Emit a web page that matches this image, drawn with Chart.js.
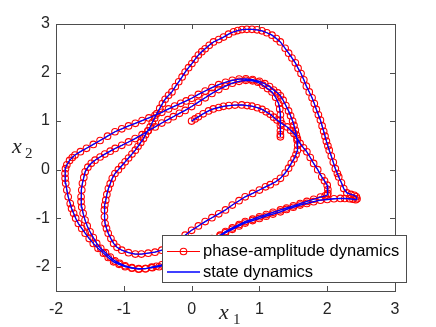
<!DOCTYPE html>
<html lang="en">
<head>
<meta charset="UTF-8">
<title>Phase-amplitude vs state dynamics</title>
<script src="https://cdn.jsdelivr.net/npm/chart.js"></script>
<style>
  html, body { margin: 0; padding: 0; background: #ffffff; }
  #wrap { width: 436px; height: 327px; }
</style>
</head>
<body>
<div id="wrap"><canvas id="phaseChart" width="436" height="327"></canvas></div>
<script>
// trajectory (x1, x2), one array pair per pass round the orbit
const pass1X = [0.00,0.05,0.10,0.17,0.25,0.32,0.40,0.47,0.55,0.64,0.74,0.82,0.89,0.97,1.04,1.10,1.16,1.21,1.26,1.33,1.41,1.46,1.51,1.56,1.60,1.65,1.70,1.75,1.80,1.86,1.92,1.96,2.00,2.01,2.01,2.00,1.97];
const pass1Y = [1.00,1.045,1.087,1.15,1.21,1.25,1.28,1.305,1.32,1.33,1.333,1.32,1.307,1.275,1.24,1.19,1.14,1.08,1.02,0.95,0.88,0.81,0.745,0.64,0.54,0.45,0.366,0.25,0.127,0.0,-0.148,-0.23,-0.32,-0.41,-0.49,-0.52,-0.54];

const pass2X = [1.90,1.80,1.70,1.60,1.50,1.40,1.31,1.20,1.10,1.00,0.90,0.79,0.70,0.60,0.50,0.42,0.30,0.20,0.10,0.00,-0.10,-0.20,-0.30,-0.44,-0.52,-0.59,-0.68,-0.78,-0.88,-0.98,-1.07,-1.15,-1.23,-1.30,-1.38,-1.45,-1.51,-1.57,-1.62,-1.67,-1.71,-1.74,-1.77,-1.79,-1.82,-1.84,-1.857,-1.865,-1.867,-1.86,-1.84,-1.80,-1.76];
const pass2Y = [-0.565,-0.61,-0.655,-0.70,-0.745,-0.79,-0.83,-0.88,-0.925,-0.97,-1.02,-1.07,-1.13,-1.20,-1.275,-1.35,-1.42,-1.50,-1.60,-1.68,-1.75,-1.82,-1.88,-1.96,-1.99,-2.01,-2.04,-2.05,-2.03,-2.00,-1.95,-1.90,-1.81,-1.72,-1.62,-1.52,-1.42,-1.31,-1.21,-1.11,-1.00,-0.90,-0.80,-0.70,-0.56,-0.42,-0.28,-0.18,-0.08,0.02,0.10,0.19,0.25];

const pass3X = [-1.72,-1.64,-1.55,-1.45,-1.35,-1.24,-1.13,-1.03,-0.93,-0.83,-0.73,-0.63,-0.54,-0.44,-0.34,-0.25,-0.16,-0.08,0.0,0.10,0.20,0.30,0.40,0.50,0.60,0.70,0.80,0.90,1.00,1.08,1.15,1.21,1.27,1.31,1.35,1.39,1.43,1.46,1.49,1.51,1.53,1.545,1.555,1.565,1.56,1.54,1.51,1.47,1.43,1.38,1.31,1.24,1.16,1.09,1.00,0.90,0.79,0.70,0.60,0.50,0.40,0.30,0.20,0.10,0.00,-0.095,-0.18,-0.27,-0.36,-0.44,-0.54,-0.64,-0.74,-0.83,-0.93,-1.03,-1.10,-1.15,-1.19,-1.23,-1.255,-1.276,-1.285,-1.287,-1.28,-1.266,-1.25,-1.227,-1.20,-1.17,-1.13,-1.08,-1.03,-0.98,-0.93,-0.88,-0.83,-0.79,-0.75,-0.71,-0.68,-0.645,-0.61,-0.58,-0.545,-0.513,-0.47,-0.43];
const pass3Y = [0.30,0.37,0.44,0.52,0.60,0.69,0.78,0.84,0.90,0.955,1.01,1.065,1.12,1.18,1.25,1.31,1.365,1.415,1.47,1.55,1.62,1.69,1.75,1.80,1.84,1.865,1.87,1.855,1.82,1.77,1.71,1.64,1.58,1.52,1.43,1.32,1.21,1.11,1.00,0.91,0.81,0.71,0.61,0.50,0.40,0.31,0.22,0.13,0.03,-0.07,-0.18,-0.25,-0.31,-0.355,-0.42,-0.49,-0.56,-0.64,-0.73,-0.83,-0.91,-0.99,-1.07,-1.16,-1.25,-1.35,-1.44,-1.53,-1.60,-1.66,-1.70,-1.72,-1.74,-1.74,-1.71,-1.66,-1.60,-1.52,-1.42,-1.31,-1.21,-1.11,-0.97,-0.83,-0.73,-0.63,-0.51,-0.39,-0.29,-0.18,-0.08,0.0,0.08,0.16,0.24,0.32,0.40,0.48,0.56,0.64,0.72,0.80,0.88,0.97,1.06,1.156,1.26,1.36];

const pass4X = [-0.39,-0.34,-0.29,-0.24,-0.19,-0.14,-0.095,-0.045,0.004,0.05,0.10,0.15,0.20,0.26,0.323,0.40,0.471,0.545,0.619,0.68,0.743,0.815,0.89,0.965,1.038,1.11,1.186,1.25,1.309,1.38,1.431,1.48,1.53,1.57,1.614,1.655,1.693,1.735,1.777,1.81,1.84,1.87,1.90,1.925,1.948,1.968,1.988,2.01,2.03,2.06,2.09,2.12,2.15,2.17,2.21,2.244,2.29,2.35,2.40,2.43,2.44,2.42];
const pass4Y = [1.45,1.53,1.60,1.71,1.81,1.91,2.01,2.10,2.185,2.27,2.36,2.43,2.49,2.56,2.63,2.68,2.73,2.79,2.84,2.865,2.885,2.89,2.89,2.88,2.86,2.82,2.77,2.70,2.63,2.50,2.40,2.30,2.20,2.09,1.98,1.85,1.72,1.60,1.48,1.36,1.24,1.13,1.02,0.90,0.79,0.69,0.586,0.49,0.40,0.28,0.15,0.02,-0.08,-0.15,-0.27,-0.39,-0.48,-0.51,-0.53,-0.56,-0.60,-0.62];

const pass5X = [2.38,2.33,2.26,2.195,2.10,2.00,1.90,1.80,1.70,1.60,1.50,1.40,1.31,1.20,1.10,1.00,0.90,0.79,0.70,0.60,0.50,0.42,0.32,0.22,0.12,0.02,-0.08,-0.18,-0.28,-0.38,-0.48,-0.58,-0.68,-0.78,-0.88,-0.98,-1.06,-1.13,-1.20,-1.27,-1.34,-1.40,-1.45,-1.498,-1.54,-1.572,-1.60,-1.62,-1.63,-1.63,-1.62,-1.61,-1.59,-1.57,-1.53,-1.48,-1.424,-1.35,-1.28,-1.20,-1.128,-1.03,-0.93,-0.833,-0.73,-0.64,-0.538,-0.44,-0.35,-0.27,-0.18,-0.095,0.0,0.10,0.20,0.30,0.40,0.50,0.60,0.70,0.80,0.90,0.98,1.05,1.12,1.186,1.24,1.284,1.30,1.31,1.31,1.31,1.31,1.31,1.31];
const pass5Y = [-0.61,-0.60,-0.595,-0.593,-0.60,-0.615,-0.63,-0.66,-0.695,-0.73,-0.775,-0.82,-0.87,-0.915,-0.96,-1.005,-1.05,-1.10,-1.16,-1.23,-1.30,-1.37,-1.45,-1.53,-1.62,-1.70,-1.78,-1.85,-1.91,-1.96,-2.00,-2.02,-2.04,-2.04,-2.02,-1.98,-1.93,-1.88,-1.80,-1.71,-1.62,-1.52,-1.40,-1.28,-1.16,-1.04,-0.90,-0.77,-0.66,-0.56,-0.42,-0.28,-0.16,-0.045,0.05,0.13,0.195,0.26,0.32,0.38,0.436,0.50,0.57,0.64,0.72,0.80,0.88,0.96,1.03,1.09,1.16,1.22,1.30,1.39,1.48,1.57,1.65,1.72,1.78,1.82,1.84,1.83,1.80,1.74,1.67,1.60,1.49,1.36,1.25,1.13,1.02,0.91,0.80,0.72,0.675];

const xTicks = [-2, -1, 0, 1, 2, 3];
const yTicks = [-2, -1, 0, 1, 2, 3];
const seriesNames = ['phase-amplitude dynamics', 'state dynamics'];

const x1 = [].concat(pass1X, pass2X, pass3X, pass4X, pass5X);
const x2 = [].concat(pass1Y, pass2Y, pass3Y, pass4Y, pass5Y);
const orbit = x1.map((v, i) => ({ x: v, y: x2[i] }));

const axisColor = '#262626';
const tickLen = 5;

// MATLAB-like frame, inward ticks, axis symbols and the legend box
const framePlugin = {
    id: 'frame',
    afterDraw(chart) {
        const { ctx, chartArea: a, scales } = chart;
        const L = Math.round(a.left), R = Math.round(a.right), T = Math.round(a.top), B = Math.round(a.bottom);
        ctx.save();
        ctx.strokeStyle = '#4d4d4d';
        ctx.lineWidth = 1;
        ctx.strokeRect(L + 0.5, T + 0.5, R - L, B - T);
        ctx.beginPath();
        xTicks.forEach(v => {
            const px = Math.round(scales.x.getPixelForValue(v)) + 0.5;
            ctx.moveTo(px, B); ctx.lineTo(px, B - tickLen);
            ctx.moveTo(px, T); ctx.lineTo(px, T + tickLen);
        });
        yTicks.forEach(v => {
            const py = Math.round(scales.y.getPixelForValue(v)) + 0.5;
            ctx.moveTo(L, py); ctx.lineTo(L + tickLen, py);
            ctx.moveTo(R, py); ctx.lineTo(R - tickLen, py);
        });
        ctx.stroke();

        // axis symbols x1, x2
        ctx.fillStyle = axisColor;
        ctx.textBaseline = 'alphabetic';
        ctx.font = 'italic 22px "Liberation Serif"';
        ctx.fillText('x', 219, 319);
        ctx.fillText('x', 12, 153);
        ctx.font = '15px "Liberation Serif"';
        ctx.fillText('1', 233, 324);
        ctx.fillText('2', 25, 158);

        // legend
        const lx = 162, ly = 235, lw = 244, lh = 47;
        ctx.fillStyle = '#ffffff';
        ctx.fillRect(lx, ly, lw, lh);
        ctx.strokeStyle = '#4d4d4d';
        ctx.strokeRect(lx + 0.5, ly + 0.5, lw, lh);
        const rows = [256, 276.5];
        ctx.lineWidth = 1;
        ctx.strokeStyle = 'red';
        ctx.beginPath();
        ctx.moveTo(167, rows[0] - 4.5); ctx.lineTo(200, rows[0] - 4.5);
        ctx.stroke();
        ctx.lineWidth = 1.1;
        ctx.beginPath();
        ctx.arc(183.5, rows[0] - 4.5, 3.3, 0, Math.PI * 2);
        ctx.stroke();
        ctx.strokeStyle = 'blue';
        ctx.lineWidth = 1.3;
        ctx.beginPath();
        ctx.moveTo(167, rows[1] - 4.5); ctx.lineTo(200, rows[1] - 4.5);
        ctx.stroke();
        ctx.fillStyle = '#000000';
        ctx.font = '16.5px "Liberation Sans"';
        ctx.fillText(seriesNames[0], 203, rows[0]);
        ctx.fillText(seriesNames[1], 203, rows[1]);
        ctx.restore();
    }
};

new Chart(document.getElementById('phaseChart').getContext('2d'), {
    type: 'scatter',
    data: {
        datasets: [{
            label: seriesNames[0],
            data: orbit,
            showLine: true,
            borderColor: 'red',
            borderWidth: 1,
            pointRadius: 3.3,
            pointBorderWidth: 1.1,
            pointBorderColor: 'red',
            pointBackgroundColor: 'rgba(0,0,0,0)',
            order: 2
        }, {
            label: seriesNames[1],
            data: orbit,
            showLine: true,
            borderColor: 'blue',
            borderWidth: 1.3,
            pointRadius: 0,
            order: 1
        }]
    },
    options: {
        responsive: false,
        animation: false,
        events: [],
        layout: { padding: { top: 24, right: 41, left: 0, bottom: 0 } },
        plugins: { legend: { display: false }, tooltip: { enabled: false } },
        scales: {
            x: {
                type: 'linear', min: -2, max: 3,
                grid: { display: false, drawTicks: false },
                border: { display: false },
                afterBuildTicks: s => { s.ticks = xTicks.map(v => ({ value: v })); },
                afterFit: s => { s.height = 36; },
                ticks: { color: axisColor, padding: 9, font: { family: 'Liberation Sans', size: 16 } }
            },
            y: {
                type: 'linear', min: -2.5, max: 3,
                grid: { display: false, drawTicks: false },
                border: { display: false },
                afterBuildTicks: s => { s.ticks = yTicks.map(v => ({ value: v })); },
                afterFit: s => { s.width = 56; },
                ticks: { color: axisColor, padding: 6, font: { family: 'Liberation Sans', size: 16 } }
            }
        }
    },
    plugins: [framePlugin]
});
</script>
</body>
</html>
